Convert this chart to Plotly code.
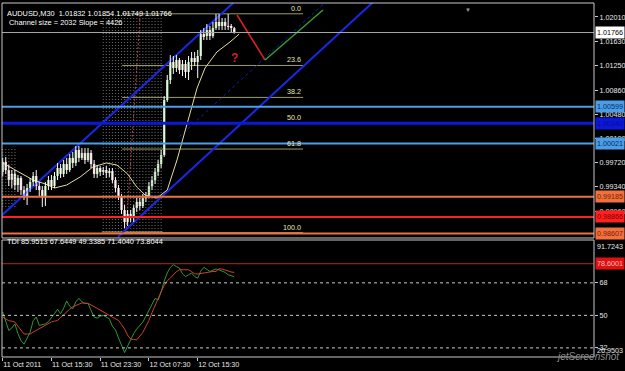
import plotly.graph_objects as go

# ---------------- data ----------------
bar_index = list(range(77))
opens = [0.99573, 0.99730, 0.99605, 0.99447, 0.99542, 0.99369, 0.99479, 0.99290, 0.99196, 0.99322,
         0.99416, 0.99510, 0.99353, 0.99290, 0.99196, 0.99353, 0.99447, 0.99353, 0.99510, 0.99636,
         0.99542, 0.99699, 0.99605, 0.99794, 0.99715, 0.99919, 0.99794, 0.99872, 0.99762, 0.99872,
         0.99699, 0.99542, 0.99636, 0.99573, 0.99605, 0.99557, 0.99589, 0.99447, 0.99322, 0.99196,
         0.98976, 0.98787, 0.98913, 0.98850, 0.99007, 0.99101, 0.99039, 0.99164, 0.99196, 0.99353,
         0.99447, 0.99573, 0.99699, 0.99841, 1.00705, 1.01019, 1.01302, 1.01208, 1.01334, 1.01177,
         1.01271, 1.01145, 1.01302, 1.01365, 1.01302, 1.01397, 1.01742, 1.01711, 1.01805, 1.01711,
         1.01837, 1.01931, 1.01868, 1.01931, 1.01868, 1.01853, 1.01832]
highs = [0.99794, 0.99809, 0.99683, 0.99605, 0.99605, 0.99526, 0.99510, 0.99353, 0.99385, 0.99479,
         0.99573, 0.99605, 0.99416, 0.99353, 0.99416, 0.99510, 0.99526, 0.99573, 0.99715, 0.99699,
         0.99762, 0.99794, 0.99856, 0.99888, 0.99982, 0.99982, 0.99951, 0.99951, 0.99951, 0.99919,
         0.99762, 0.99683, 0.99667, 0.99652, 0.99667, 0.99636, 0.99636, 0.99494, 0.99369, 0.99227,
         0.99054, 0.98976, 0.98976, 0.99054, 0.99164, 0.99164, 0.99227, 0.99259, 0.99416, 0.99510,
         0.99636, 0.99762, 0.99919, 1.00768, 1.01098, 1.01412, 1.01397, 1.01412, 1.01365, 1.01334,
         1.01334, 1.01397, 1.01460, 1.01460, 1.01491, 1.01805, 1.01837, 1.01900, 1.01868, 1.01931,
         1.02057, 1.02057, 1.01994, 1.01994, 1.02057, 1.01900, 1.01854]
lows = [0.99510, 0.99542, 0.99353, 0.99322, 0.99290, 0.99259, 0.99212, 0.99133, 0.99054, 0.99259,
        0.99353, 0.99290, 0.99196, 0.99023, 0.99039, 0.99290, 0.99290, 0.99322, 0.99447, 0.99479,
        0.99494, 0.99542, 0.99573, 0.99636, 0.99667, 0.99730, 0.99762, 0.99699, 0.99730, 0.99636,
        0.99479, 0.99479, 0.99510, 0.99526, 0.99479, 0.99494, 0.99400, 0.99259, 0.99133, 0.98913,
        0.98693, 0.98724, 0.98787, 0.98787, 0.98944, 0.98976, 0.99007, 0.99101, 0.99164, 0.99290,
        0.99385, 0.99510, 0.99636, 0.99809, 1.00674, 1.00957, 1.01114, 1.01145, 1.01114, 1.01082,
        1.01051, 1.01019, 1.01177, 1.01240, 1.01051, 1.01334, 1.01648, 1.01648, 1.01648, 1.01679,
        1.01805, 1.01805, 1.01805, 1.01805, 1.01805, 1.01774, 1.01749]
closes = [0.99730, 0.99605, 0.99447, 0.99542, 0.99369, 0.99479, 0.99290, 0.99196, 0.99322, 0.99416,
          0.99510, 0.99353, 0.99290, 0.99196, 0.99353, 0.99447, 0.99353, 0.99510, 0.99636, 0.99542,
          0.99699, 0.99605, 0.99794, 0.99715, 0.99919, 0.99794, 0.99872, 0.99762, 0.99872, 0.99699,
          0.99542, 0.99636, 0.99573, 0.99605, 0.99557, 0.99589, 0.99447, 0.99322, 0.99196, 0.98976,
          0.98787, 0.98913, 0.98850, 0.99007, 0.99101, 0.99039, 0.99164, 0.99196, 0.99353, 0.99447,
          0.99573, 0.99699, 0.99841, 1.00705, 1.01019, 1.01302, 1.01208, 1.01334, 1.01177, 1.01271,
          1.01145, 1.01302, 1.01365, 1.01302, 1.01397, 1.01742, 1.01711, 1.01805, 1.01711, 1.01837,
          1.01931, 1.01868, 1.01931, 1.01868, 1.01853, 1.01837, 1.01766]

ma_bars = [0, 3, 5.7, 10, 14, 17, 21, 25.4, 29.6, 34, 37.5, 41, 44, 46.7, 50.6, 54, 57.2, 60.5,
           63.8, 66.4, 70.3, 74.6, 77.6]
ma_values = [0.99715, 0.99636, 0.99573, 0.99447, 0.99385, 0.99322, 0.99369, 0.99494, 0.99652,
             0.99715, 0.99683, 0.99542, 0.99337, 0.99212, 0.99164, 0.99290, 0.99762, 1.00312,
             1.00894, 1.01208, 1.01460, 1.01617, 1.01742]

tdi_price_line = [51.9, 46, 41.6, 43, 45.3, 40, 36, 34.1, 37, 40.6, 47, 49.1, 44.4, 45, 45.3, 46.5,
                  48.5, 51, 53.4, 50.9, 54, 58.0, 55, 53.7, 57.5, 59.4, 57.5, 56.6, 56.6, 53, 49,
                  48.5, 49.5, 50, 49, 48.1, 44, 42, 37.5, 33, 29.4, 33, 36.9, 40, 42.5, 44.5, 46.3,
                  49.5, 52.8, 56, 59.4, 58.5, 63, 69, 73.5, 76.5, 78.1, 77, 76.2, 73, 71.5, 72.5,
                  73.4, 71.5, 70.6, 74.5, 76.6, 75.5, 74.3, 75, 75.7, 75.2, 74.7, 73.8, 72.5, 71.8,
                  71.4]
tdi_signal_line = [49.1, 47.8, 47, 46.8, 46.3, 44, 41.5, 39.7, 39.7, 39.7, 40.7, 41.6, 42.5, 43.4,
                   44.5, 45.6, 46.4, 46.8, 47.2, 48.8, 50.5, 51.9, 53.4, 54.7, 55.5, 56.4, 56.9,
                   56.8, 56.6, 55.8, 54.9, 54, 53, 51.9, 51, 50, 49, 48, 47.2, 45, 42.5, 39, 36.9,
                   36.6, 36.5, 38.5, 40.6, 44, 47.2, 51.5, 55.6, 59.5, 63.1, 66.5, 69.2, 70.6, 72.5,
                   74.2, 75.3, 75.3, 75.3, 75.2, 74.2, 73, 72.9, 73.2, 73.5, 74, 74.3, 74.3, 74.3,
                   75.8, 75.6, 75.3, 74.6, 74, 73.8]

price_ticks = [1.02010, 1.01630, 1.01250, 1.00860, 1.00480, 1.00100, 0.99720, 0.99340, 0.98960]
price_tick_labels = ["1.02010", "1.01630", "1.01250", "1.00860", "1.00480", "1.00100",
                     "0.99720", "0.99340", "0.98960"]
time_tick_bars = [0, 16, 32, 48, 64]
time_tick_labels = ["11 Oct 2011", "11 Oct 15:30", "11 Oct 23:30", "12 Oct 07:30", "12 Oct 15:30"]

level_prices = [1.01766, 1.00599, 1.00340, 1.00021, 0.99185, 0.98866, 0.98607]
level_labels = ["1.01766", "1.00599", "1.00340", "1.00021", "0.99185", "0.98866", "0.98607"]
level_colors = ["#a8a8a8", "#4a9ee8", "#0c18d8", "#4a9ee8", "#f07040", "#ff2020", "#f07040"]
level_widths = [1, 2, 3, 2, 2, 2, 2]
level_text_colors = ["#000000", "#0a2a60", "#0a0a90", "#0a2a60", "#7a2000", "#800000", "#7a2000"]

fib_high, fib_low = 1.02060, 0.98620
fib_levels = [0.0, 23.6, 38.2, 50.0, 61.8, 100.0]
fib_bars = [39.2, 98.6]

channel_upper_bars, channel_upper_prices = [-1, 80], [0.98861, 1.02423]
channel_lower_bars, channel_lower_prices = [37.8, 130], [0.98551, 1.02617]
channel_dash_bars, channel_dash_prices = [58, 112], [1.00130, 1.02513]

session_bars_a = [0, 1, 2, 3, 4]
session_range_a = [0.99023, 0.99966]
session_bars_b = list(range(33, 53))
session_range_b = [0.98630, 1.02041]
session_marker_bars, session_marker_prices = [45.1, 40.5], [1.02041, 0.98630]

forecast_red_bars, forecast_red_prices = [76.9, 86.1], [1.02041, 1.01334]
forecast_green_bars, forecast_green_prices = [86.1, 105.1], [1.01334, 1.02120]
question_bar, question_price = 76.2, 1.01365

tdi_upper_level = 78.6001
tdi_dash_levels = [68, 50, 32]
tdi_max, tdi_min = 91.7243, 26.9503

header_main = "AUDUSD,M30  1.01832 1.01854 1.01749 1.01766"
header_channel = "Channel size = 2032 Slope = 4426"
header_tdi = "TDI 85.9513 67.6449 49.3385 71.4040 73.8044"

# ---------------- figure ----------------
W, H = 625, 371
ML, MR, MT, MB = 2, 31, 3, 14
FONT = "Liberation Sans"
TXT = "#e8e8e8"


def px_x(px):
    return (px - ML) / (W - ML - MR)


def px_y(py):
    return (H - MB - py) / (H - MT - MB)


fig = go.Figure()

# session dotted columns
for bars, rng in ((session_bars_a, session_range_a), (session_bars_b, session_range_b)):
    xs, ys = [], []
    for b in bars:
        xs += [b, b, None]
        ys += [rng[0], rng[1], None]
    fig.add_trace(go.Scatter(x=xs, y=ys, mode="lines", line=dict(color="#6e6e6e", width=1, dash="1px,2px"),
                             hoverinfo="skip", showlegend=False))
fig.add_trace(go.Scatter(x=[session_bars_b[0] - 0.5, session_bars_b[-1] + 0.5],
                         y=[session_range_b[0]] * 2, mode="lines",
                         line=dict(color="#c8a070", width=1), showlegend=False, hoverinfo="skip"))
fig.add_trace(go.Scatter(x=session_marker_bars, y=session_marker_prices, mode="lines",
                         line=dict(color="#c04848", width=1, dash="2px,2px"), showlegend=False,
                         hoverinfo="skip"))

# fibonacci
for lv in fib_levels:
    p = fib_high - (fib_high - fib_low) * lv / 100
    fig.add_trace(go.Scatter(x=fib_bars, y=[p, p], mode="lines", line=dict(color="#9c9c6a", width=1),
                             showlegend=False, hoverinfo="skip"))
    fig.add_annotation(x=fib_bars[1], y=p, xref="x", yref="y", text=f"{lv:.1f}", showarrow=False,
                       xanchor="right", yanchor="bottom", yshift=-1,
                       font=dict(family=FONT, size=7.2, color="#e6e6b4"))

# horizontal levels
for p, c, w in zip(level_prices, level_colors, level_widths):
    fig.add_shape(type="line", xref="x domain", yref="y", x0=0, x1=1, y0=p, y1=p,
                  line=dict(color=c, width=w), layer="above")

# channel
fig.add_trace(go.Scatter(x=channel_upper_bars, y=channel_upper_prices, mode="lines",
                         line=dict(color="#1828e8", width=2), showlegend=False, hoverinfo="skip"))
fig.add_trace(go.Scatter(x=channel_lower_bars, y=channel_lower_prices, mode="lines",
                         line=dict(color="#1828e8", width=2), showlegend=False, hoverinfo="skip"))
fig.add_trace(go.Scatter(x=channel_dash_bars, y=channel_dash_prices, mode="lines",
                         line=dict(color="#1420b0", width=1, dash="3px,3px"), showlegend=False,
                         hoverinfo="skip"))

# moving average
fig.add_trace(go.Scatter(x=ma_bars, y=ma_values, mode="lines", line=dict(color="#e6dc9a", width=1),
                         showlegend=False, hoverinfo="skip"))

# candles
wx, wy = [], []
for i, h, l in zip(bar_index, highs, lows):
    wx += [i, i, None]
    wy += [l, h, None]
fig.add_trace(go.Scatter(x=wx, y=wy, mode="lines", line=dict(color="#ffffff", width=1),
                         showlegend=False, hoverinfo="skip"))
body_base = [min(o, c) for o, c in zip(opens, closes)]
body_h = [max(abs(c - o), 0.00004) for o, c in zip(opens, closes)]
body_col = ["#9cd896" if c >= o else "#f2c8d2" for o, c in zip(opens, closes)]
fig.add_trace(go.Bar(x=bar_index, y=body_h, base=body_base, width=0.8,
                     marker=dict(color=body_col, line=dict(width=0)), showlegend=False,
                     hoverinfo="skip"))

# forecast zigzag
fig.add_trace(go.Scatter(x=forecast_red_bars, y=forecast_red_prices, mode="lines",
                         line=dict(color="#e02020", width=1.5), showlegend=False, hoverinfo="skip"))
fig.add_trace(go.Scatter(x=forecast_green_bars, y=forecast_green_prices, mode="lines",
                         line=dict(color="#30a030", width=1.5), showlegend=False, hoverinfo="skip"))
fig.add_annotation(x=question_bar, y=question_price, xref="x", yref="y", text="<b>?</b>",
                   showarrow=False, font=dict(family=FONT, size=12, color="#d02020"))

# TDI
fig.add_shape(type="line", xref="x domain", yref="y2", x0=0, x1=1, y0=tdi_upper_level,
              y1=tdi_upper_level, line=dict(color="#b0281a", width=1))
for lv in tdi_dash_levels:
    fig.add_shape(type="line", xref="x domain", yref="y2", x0=0, x1=1, y0=lv, y1=lv,
                  line=dict(color="#c8c8c8", width=1, dash="3px,3px"))
fig.add_trace(go.Scatter(x=bar_index, y=tdi_price_line, yaxis="y2", mode="lines",
                         line=dict(color="#2e9a2e", width=1), showlegend=False, hoverinfo="skip"))
fig.add_trace(go.Scatter(x=bar_index, y=tdi_signal_line, yaxis="y2", mode="lines",
                         line=dict(color="#d0402a", width=1), showlegend=False, hoverinfo="skip"))

# panel frames
fig.add_shape(type="rect", xref="x domain", yref="y domain", x0=0, x1=1, y0=0, y1=1,
              line=dict(color="#c8c8c8", width=1), layer="above")
fig.add_shape(type="rect", xref="x domain", yref="y2 domain", x0=0, x1=1, y0=0, y1=1,
              line=dict(color="#c8c8c8", width=1), layer="above")

# right-axis level boxes
for p, lab, c, tc in zip(level_prices, level_labels, level_colors, level_text_colors):
    bg = "#ffffff" if lab == "1.01766" else c
    fig.add_annotation(x=1, y=p, xref="paper", yref="y", text=lab, showarrow=False, xanchor="left",
                       xshift=1, bgcolor=bg, borderpad=1,
                       font=dict(family=FONT, size=7.2, color=tc))
fig.add_annotation(x=1, y=tdi_upper_level, xref="paper", yref="y2", text=f"{tdi_upper_level:.4f}",
                   showarrow=False, xanchor="left", xshift=1, bgcolor="#e01010", borderpad=1,
                   font=dict(family=FONT, size=7.2, color="#f0c0c0"))
fig.add_annotation(x=1, y=tdi_max, xref="paper", yref="y2", text=f"{tdi_max:.4f}", showarrow=False,
                   xanchor="left", yanchor="top", xshift=1, font=dict(family=FONT, size=7.2, color=TXT))
fig.add_annotation(x=1, y=tdi_min, xref="paper", yref="y2", text=f"{tdi_min:.4f}", showarrow=False,
                   xanchor="left", yanchor="bottom", xshift=1, font=dict(family=FONT, size=7.2, color=TXT))

# header texts
fig.add_annotation(x=px_x(5), y=px_y(7), xref="paper", yref="paper", text=header_main, showarrow=False,
                   xanchor="left", font=dict(family=FONT, size=7.4, color="#ffffff"))
fig.add_annotation(x=px_x(7), y=px_y(16), xref="paper", yref="paper", text=header_channel,
                   showarrow=False, xanchor="left", font=dict(family=FONT, size=7.4, color="#ffffff"))
fig.add_annotation(x=px_x(5), y=px_y(248), xref="paper", yref="paper", text=header_tdi, showarrow=False,
                   xanchor="left", font=dict(family=FONT, size=7.4, color="#ffffff"))
fig.add_annotation(x=px_x(473), y=px_y(5), xref="paper", yref="paper", text="▼", showarrow=False,
                   font=dict(family=FONT, size=6, color="#9a9a9a"))
fig.add_annotation(x=px_x(622), y=px_y(364), xref="paper", yref="paper", text="<i>jetScreenshot</i>",
                   showarrow=False, xanchor="right", font=dict(family=FONT, size=10, color="#8c8c8c"))

fig.update_layout(
    width=W, height=H, margin=dict(l=ML, r=MR, t=MT, b=MB, autoexpand=False),
    paper_bgcolor="#000000", plot_bgcolor="#000000", barmode="overlay", showlegend=False,
    xaxis=dict(range=[-0.23, 194.06], anchor="y2", showgrid=False, zeroline=False,
               tickvals=time_tick_bars, ticktext=time_tick_labels, ticks="outside", ticklen=3,
               tickcolor="#c8c8c8", ticklabelposition="outside right", tickangle=0,
               automargin=False,
               tickfont=dict(family=FONT, size=7.2, color=TXT), showline=False),
    yaxis=dict(domain=[0.3362, 1], range=[0.98536, 1.02230], side="right", anchor="x",
               showgrid=False, zeroline=False, tickvals=price_ticks, ticktext=price_tick_labels,
               ticks="outside", ticklen=3, tickcolor="#c8c8c8", automargin=False,
               tickfont=dict(family=FONT, size=7.2, color=TXT)),
    yaxis2=dict(domain=[0, 0.3305], range=[tdi_min, tdi_max], side="right", anchor="x",
                showgrid=False, zeroline=False, tickvals=tdi_dash_levels, automargin=False,
                ticktext=[str(v) for v in tdi_dash_levels], ticks="outside", ticklen=3,
                tickcolor="#c8c8c8", tickfont=dict(family=FONT, size=7.2, color=TXT)),
)

fig.write_html("out.html")
